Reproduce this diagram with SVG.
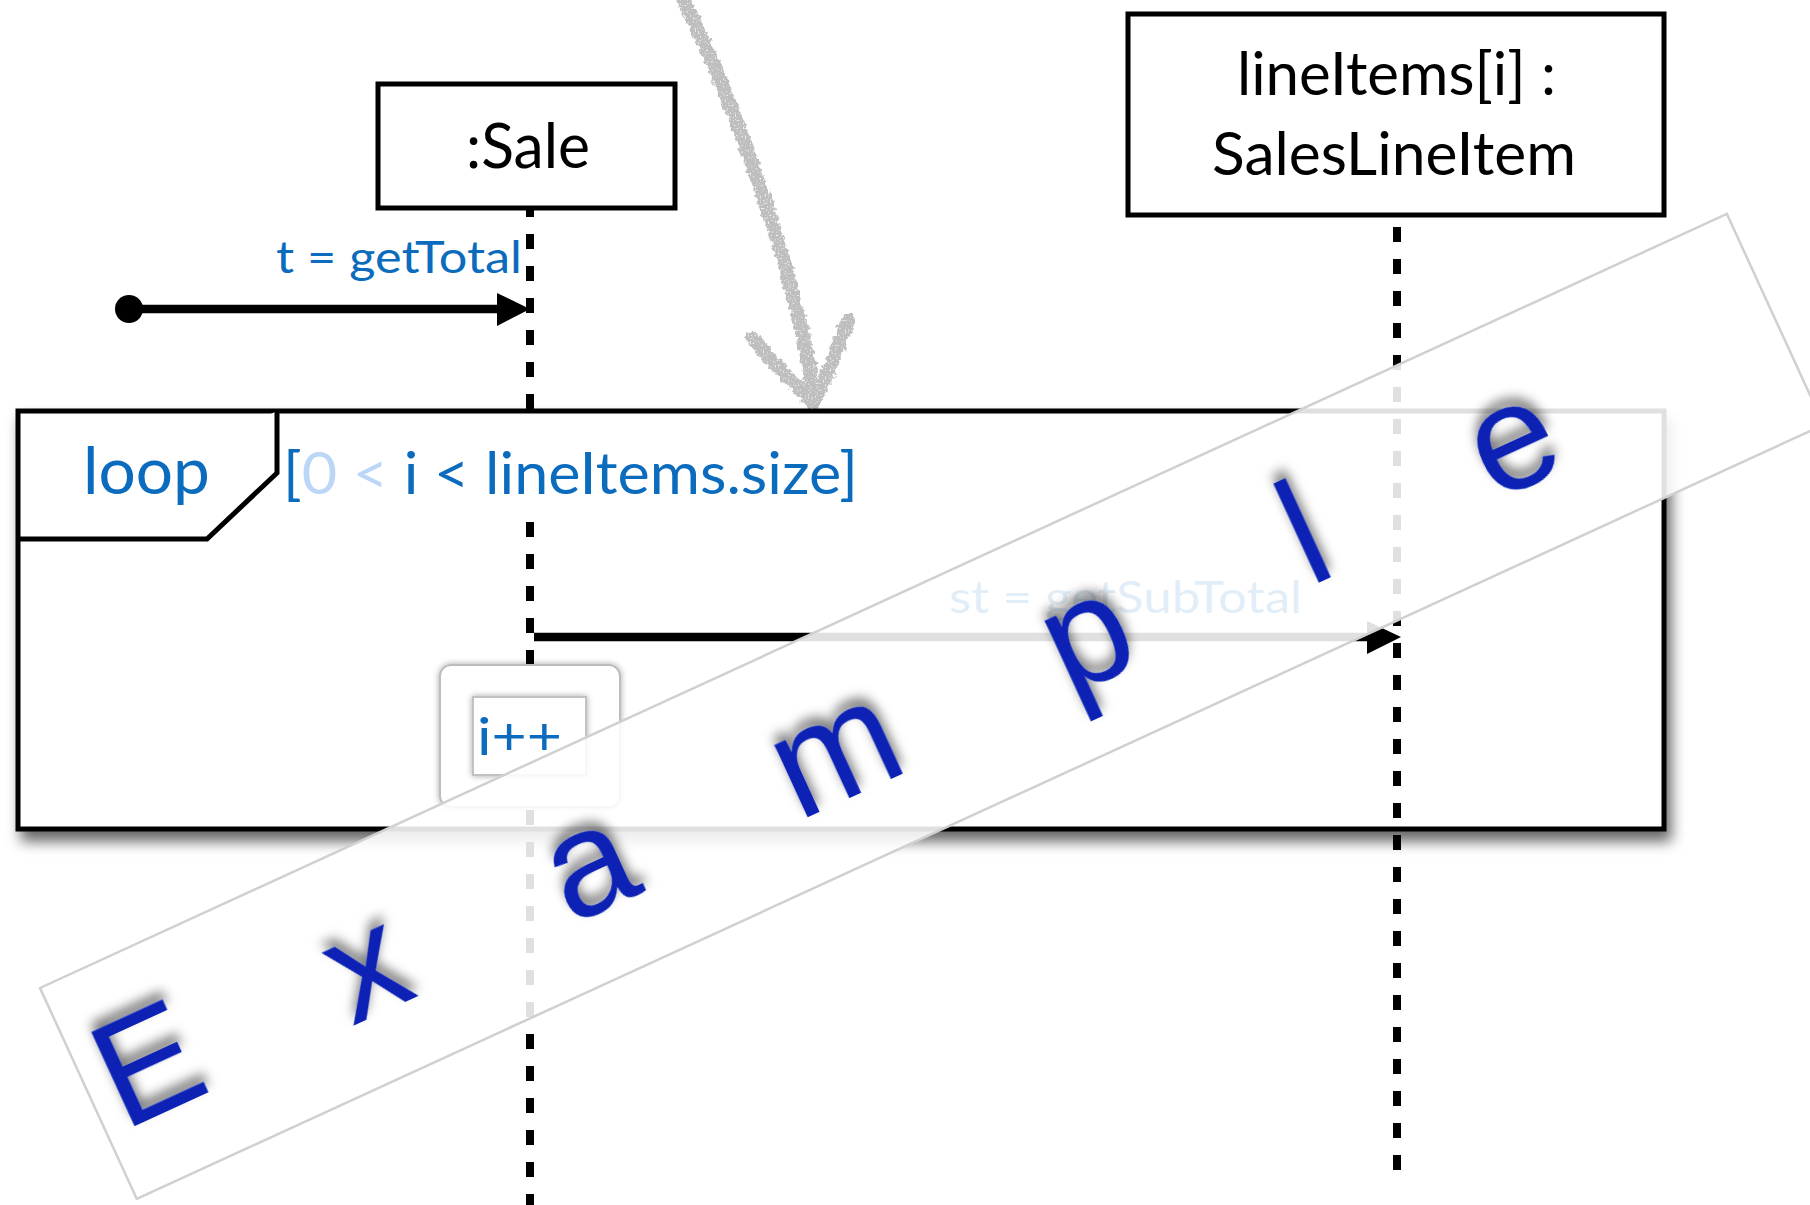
<svg xmlns="http://www.w3.org/2000/svg" width="1810" height="1205" viewBox="0 0 1810 1205">
<defs>
<style>
.box{fill:#fff;stroke:#000;stroke-width:5}
.name{font-family:Lato,"Open Sans",sans-serif;fill:#000}
.lbl{font-family:Lato,"Open Sans",sans-serif;fill:#0b6bbd}
.life{stroke:#000;stroke-width:8;stroke-dasharray:15 17;fill:none}
.msg{stroke:#000;stroke-width:8.5;fill:none}
.wm{font-family:"Liberation Sans",Arial,sans-serif;font-size:150px;fill:#0a24b4}
.sketch{fill:none;stroke:#bebebe;stroke-width:14;stroke-linecap:round;stroke-linejoin:round}
</style>
<filter id="frameShadow" x="-5%" y="-10%" width="112%" height="130%">
<feDropShadow dx="5" dy="10" stdDeviation="7" flood-color="#000" flood-opacity="0.6"/>
</filter>
<filter id="softShadow" x="-20%" y="-20%" width="140%" height="140%">
<feDropShadow dx="0" dy="0" stdDeviation="3" flood-color="#000" flood-opacity="0.35"/>
</filter>
<filter id="letterShadow" x="-10%" y="-40%" width="120%" height="180%">
<feDropShadow dx="3" dy="-8" stdDeviation="6" flood-color="#000" flood-opacity="0.55"/>
</filter>
<filter id="rough" x="-20%" y="-5%" width="140%" height="110%">
<feTurbulence type="fractalNoise" baseFrequency="0.2" numOctaves="2" seed="4" result="n"/>
<feDisplacementMap in="SourceGraphic" in2="n" scale="8" xChannelSelector="R" yChannelSelector="G" result="d"/>
<feTurbulence type="fractalNoise" baseFrequency="0.6" numOctaves="1" seed="9" result="s"/>
<feColorMatrix in="s" type="matrix" values="0 0 0 0 1  0 0 0 0 1  0 0 0 0 1  0 0 0 -4 1.7" result="sp"/>
<feComposite in="sp" in2="d" operator="in" result="spk"/>
<feMerge><feMergeNode in="d"/><feMergeNode in="spk"/></feMerge>
</filter>
</defs>
<rect width="1810" height="1205" fill="#fff"/>

<g id="sketch-arrow" filter="url(#rough)">
<path class="sketch" d="M683,0 C720,70 760,180 785,265 C800,320 810,360 813,402"/>
<path class="sketch" d="M753,338 C770,360 795,385 813,402"/>
<path class="sketch" d="M848,320 C838,350 825,380 813,402"/>
</g>

<g id="loop-frame">
<rect class="box" x="18" y="411" width="1646" height="418" filter="url(#frameShadow)"/>
<path d="M18,539 H207 L277,473 V411" fill="#fff" stroke="#000" stroke-width="5"/>
<text class="lbl" x="83" y="494" font-size="66" textLength="127" lengthAdjust="spacingAndGlyphs">loop</text>
</g>

<g id="sale">
<rect class="box" x="378" y="84" width="297" height="124"/>
<text class="name" x="466" y="168" font-size="61" textLength="124" lengthAdjust="spacingAndGlyphs">:Sale</text>
</g>

<g id="lineitems">
<rect class="box" x="1128" y="14" width="536" height="201"/>
<text class="name" x="1237" y="95" font-size="60" textLength="319" lengthAdjust="spacingAndGlyphs">lineItems[i] :</text>
<text class="name" x="1212" y="175" font-size="60" textLength="364" lengthAdjust="spacingAndGlyphs">SalesLineItem</text>
</g>

<g id="connectors">
<line class="life" x1="530" y1="210" x2="530" y2="1205" stroke-dashoffset="8"/>
<line class="life" x1="1397" y1="227" x2="1397" y2="1170"/>
<circle cx="129" cy="309" r="14" fill="#000"/>
<line class="msg" x1="129" y1="309" x2="500" y2="309"/>
<polygon points="497,293 530,309 497,326" fill="#000"/>
<text class="lbl" x="276" y="273" font-size="45" textLength="246" lengthAdjust="spacingAndGlyphs">t = getTotal</text>
<line class="msg" x1="534" y1="637" x2="1370" y2="637"/>
<polygon points="1367,621 1401,637 1367,654" fill="#000"/>
<text class="lbl" x="949" y="613" font-size="45" textLength="353" lengthAdjust="spacingAndGlyphs">st = getSubTotal</text>
</g>

<g id="loop-guard">
<rect x="281" y="415" width="582" height="104" fill="#fff"/>
<text class="lbl" x="283" y="494" font-size="59" textLength="575" lengthAdjust="spacingAndGlyphs">[<tspan fill="#bcd6f7">0 &lt;</tspan> i &lt; lineItems.size]</text>
</g>

<g id="action">
<rect x="440" y="665" width="180" height="142" rx="11" fill="#fff" stroke="#bdbdbd" stroke-width="2" filter="url(#softShadow)"/>
<rect x="473" y="697" width="113" height="78" fill="#fff" stroke="#c2c2c2" stroke-width="2" filter="url(#softShadow)"/>
<text class="lbl" x="477" y="755" font-size="52" textLength="85" lengthAdjust="spacingAndGlyphs">i++</text>
</g>

<g id="watermark" transform="translate(40,988) rotate(-24.65)">
<rect x="0" y="0" width="1856" height="232" fill="#fff" fill-opacity="0.88" stroke="#d0d0d0" stroke-width="2.5"/>
<text class="wm" text-anchor="middle" x="66 305 550 821 1098 1338 1566" y="165" filter="url(#letterShadow)">Example</text>
</g>
</svg>
